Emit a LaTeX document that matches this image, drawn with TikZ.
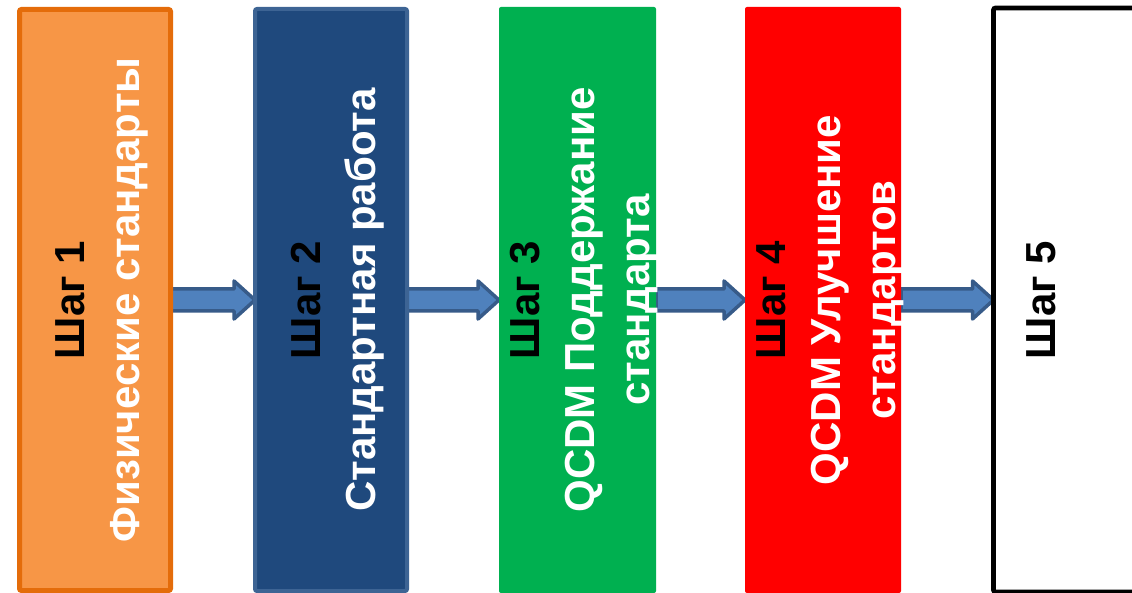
\documentclass[tikz,border=0pt]{standalone}
\usepackage{fontspec}
\setmainfont{Liberation Sans}
\usetikzlibrary{positioning, backgrounds}

\definecolor{orangeFill}{HTML}{F79646}
\definecolor{orangeLine}{HTML}{E46C0A}
\definecolor{navyFill}{HTML}{1F497D}
\definecolor{navyLine}{HTML}{3D6494}
\definecolor{greenFill}{HTML}{00B050}
\definecolor{redFill}{HTML}{FF0000}
\definecolor{arrowFill}{HTML}{4F81BD}
\definecolor{arrowLine}{HTML}{375B89}

\begin{document}
\begin{tikzpicture}[x=1pt, y=-1pt,
    stepbox/.style={rectangle, rounded corners=2pt, inner sep=0pt, outer sep=0pt},
    steptext/.style={rotate=90, align=center, text=white, font=\fontsize{42}{55}\selectfont\bfseries},
    flowarrow/.style={fill=arrowFill, draw=arrowLine, line width=3.5pt, line join=round}
]
    \useasboundingbox (0,0) rectangle (1132,593);

    % Step boxes
    \node[stepbox, fill=orangeFill, draw=orangeLine, line width=5pt, minimum width=151pt, minimum height=581pt] (s1) at (95,300) {};
    \node[stepbox, fill=navyFill, draw=navyLine, line width=4pt, minimum width=152pt, minimum height=582pt] (s2) at (331,300) {};
    \node[stepbox, fill=greenFill, minimum width=157pt, minimum height=586pt] (s3) at (577.5,300) {};
    \node[stepbox, fill=redFill, minimum width=156pt, minimum height=586pt] (s4) at (823,300) {};
    \node[stepbox, fill=white, draw=black, line width=4.7pt, minimum width=153pt, minimum height=584pt] (s5) at (1070,300) {};

    % Step texts
    \node[steptext] (t1) at ([xshift=7pt]s1) {\textcolor{black}{Шаг 1}\\Физические стандарты};
    \node[steptext] (t2) at ([xshift=7pt]s2) {\textcolor{black}{Шаг 2}\\Стандартная работа};
    \node[steptext] (t3) at ([xshift=7pt]s3) {\textcolor{black}{Шаг 3}\\QCDM Поддержание\\стандарта};
    \node[steptext] (t4) at ([xshift=7pt]s4) {\textcolor{black}{Шаг 4}\\QCDM Улучшение\\стандартов};
    \node[steptext] (t5) at ([xshift=7pt]s5) {\textcolor{black}{Шаг 5}\\\strut};

    % Block arrows between steps
    \begin{scope}[on background layer]
        \foreach \a/\b in {s1/s2, s2/s3, s3/s4, s4/s5} {
            \draw[flowarrow] ([yshift=11pt]\a.east) -- ([xshift=-21pt, yshift=11pt]\b.west)
                -- ([xshift=-21pt, yshift=19pt]\b.west) -- (\b.west)
                -- ([xshift=-21pt, yshift=-19pt]\b.west) -- ([xshift=-21pt, yshift=-11pt]\b.west)
                -- ([yshift=-11pt]\a.east) -- cycle;
        }
    \end{scope}
\end{tikzpicture}
\end{document}
